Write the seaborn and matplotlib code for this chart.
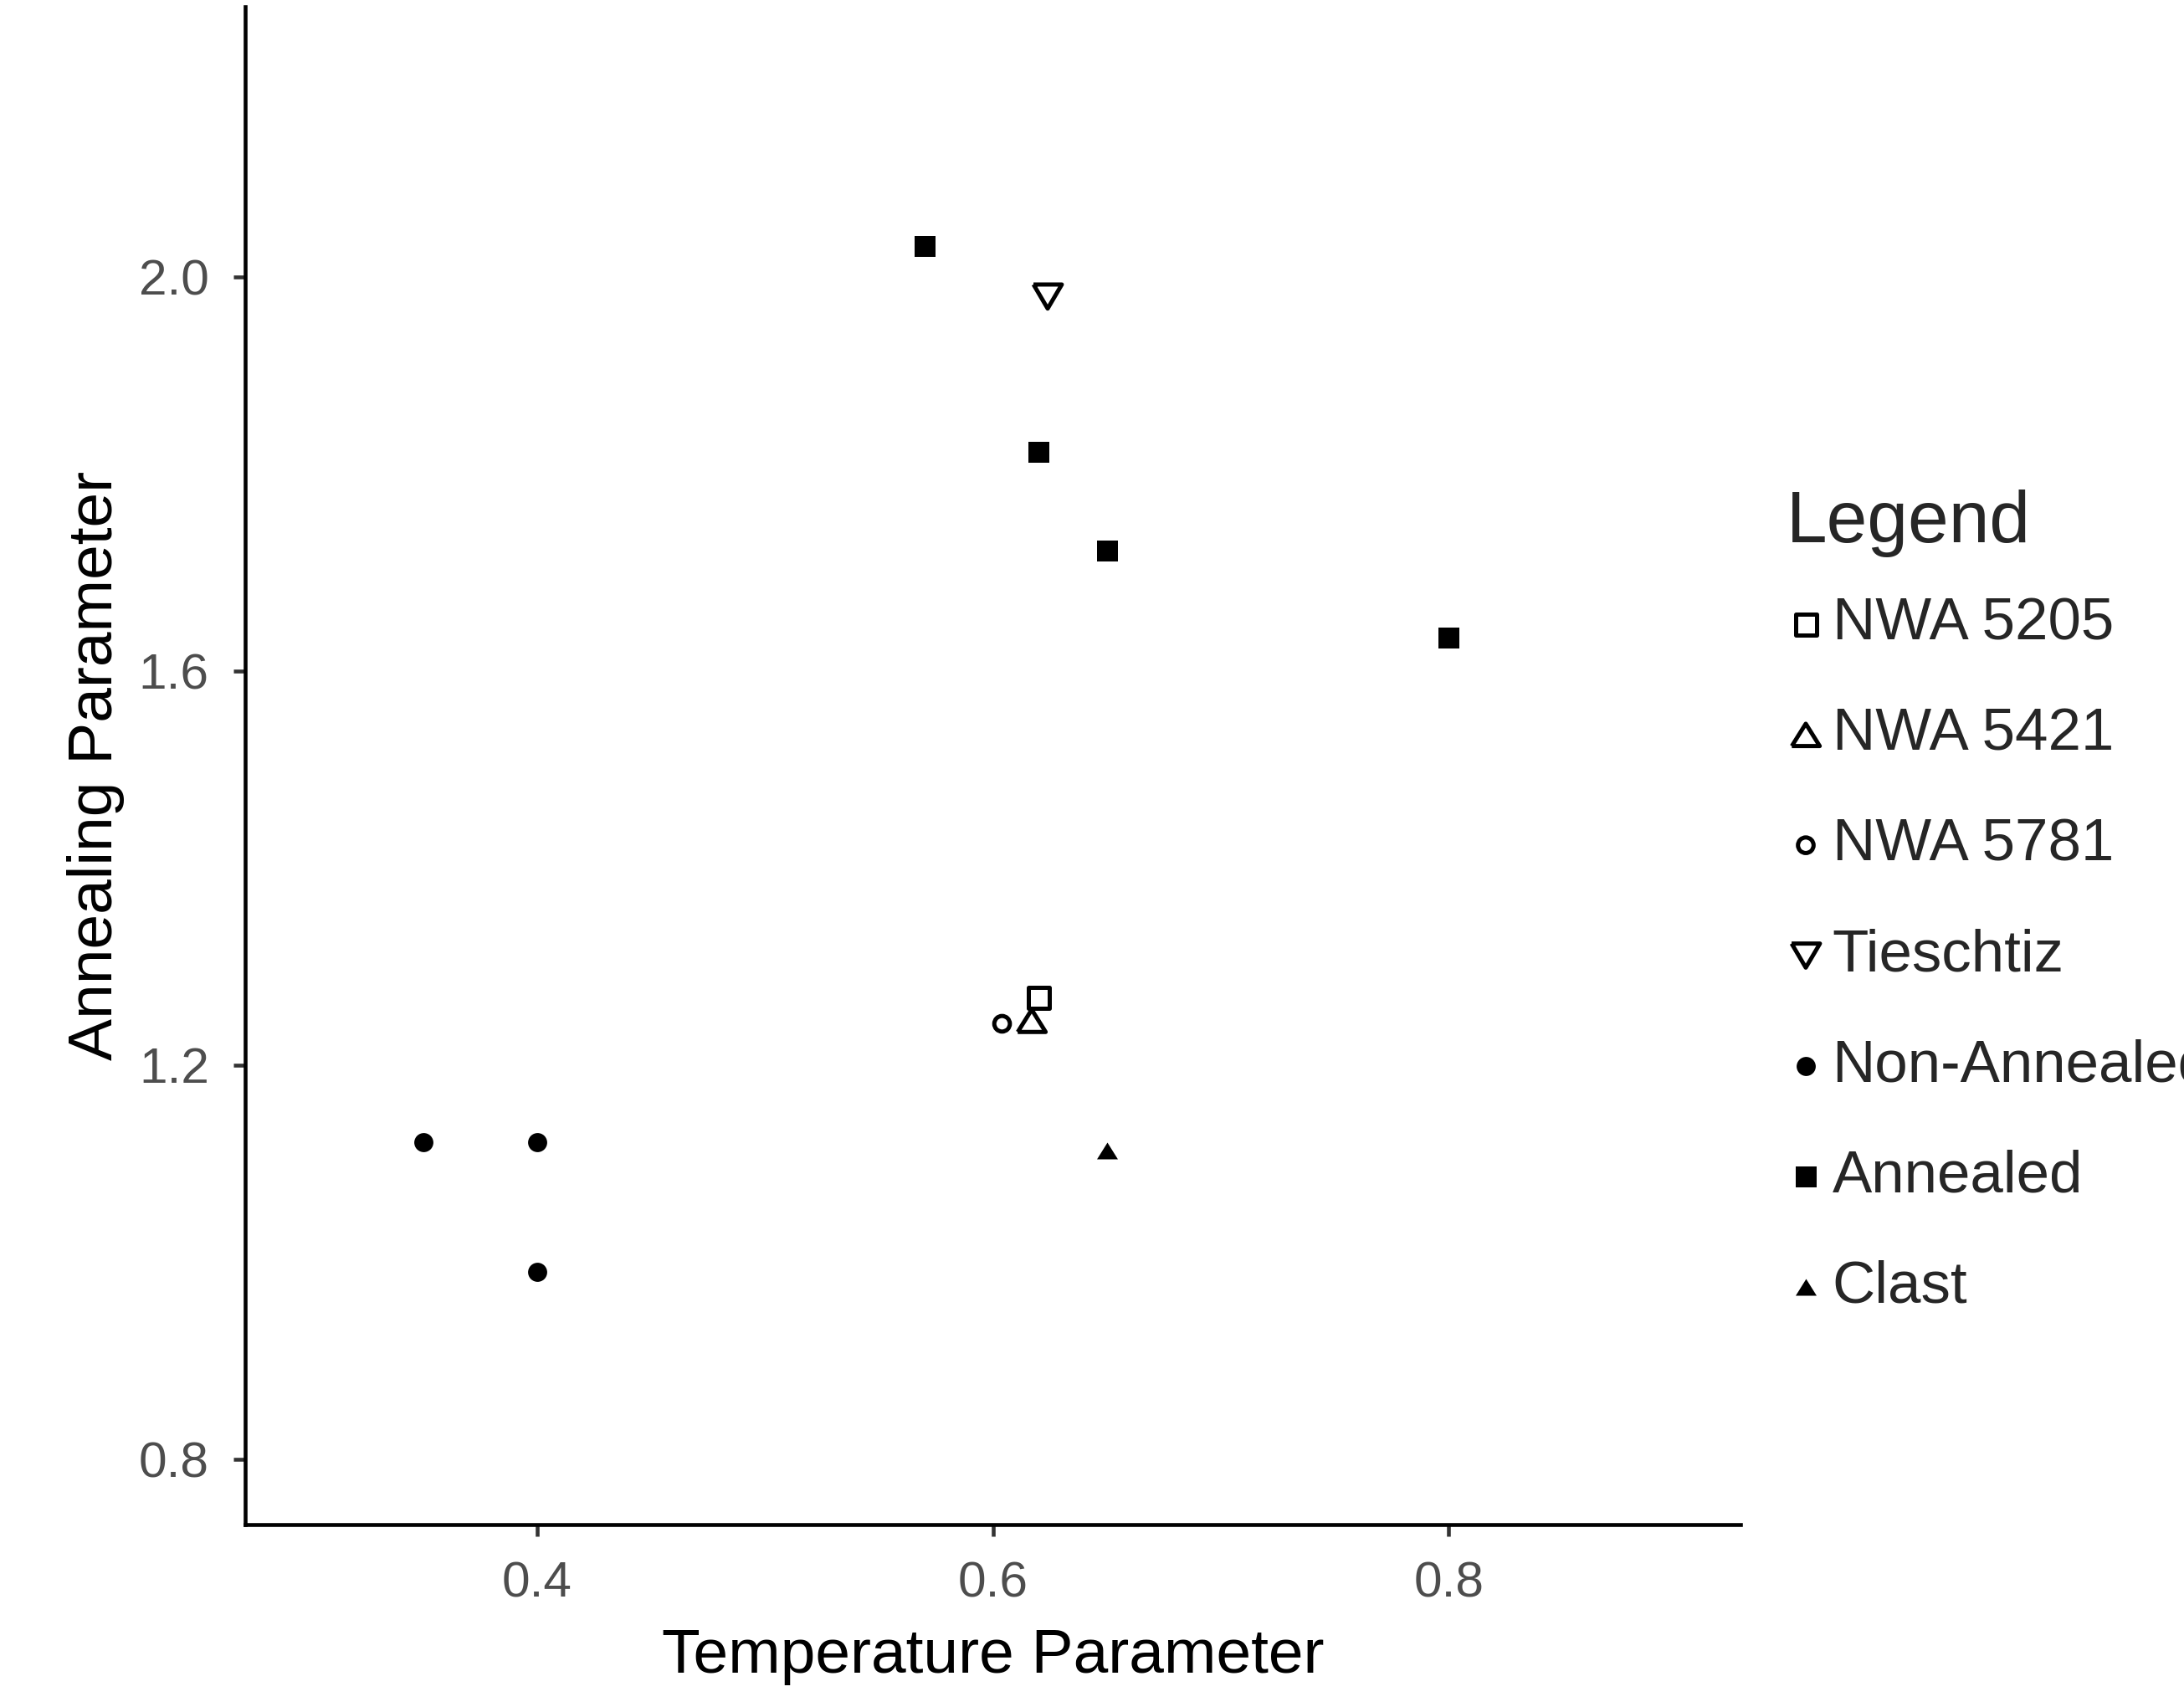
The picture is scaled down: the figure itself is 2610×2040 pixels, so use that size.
import numpy as np
import pandas as pd
import matplotlib
matplotlib.use("Agg")
import matplotlib.pyplot as plt
import seaborn as sns

# Sample groups, in legend order
groups = ["NWA 5205", "NWA 5421", "NWA 5781", "Tieschtiz", "Non-Annealed", "Annealed", "Clast"]

# Temperature / annealing parameters per group
nwa5205_temp = [0.620]
nwa5205_anneal = [1.268]
nwa5421_temp = [0.617]
nwa5421_anneal = [1.245]
nwa5781_temp = [0.604]
nwa5781_anneal = [1.242]
tieschtiz_temp = [0.624]
tieschtiz_anneal = [1.980]
nonannealed_temp = [0.35, 0.40, 0.40]
nonannealed_anneal = [1.122, 1.122, 0.990]
annealed_temp = [0.57, 0.62, 0.65, 0.80]
annealed_anneal = [2.031, 1.822, 1.722, 1.634]
clast_temp = [0.65]
clast_anneal = [1.113]

x_ticks = [0.4, 0.6, 0.8]
y_ticks = [0.8, 1.2, 1.6, 2.0]

temps = [nwa5205_temp, nwa5421_temp, nwa5781_temp, tieschtiz_temp,
         nonannealed_temp, annealed_temp, clast_temp]
anneals = [nwa5205_anneal, nwa5421_anneal, nwa5781_anneal, tieschtiz_anneal,
           nonannealed_anneal, annealed_anneal, clast_anneal]

df = pd.DataFrame({
    "Temperature Parameter": np.concatenate(temps),
    "Annealing Parameter": np.concatenate(anneals),
    "Group": np.repeat(groups, [len(t) for t in temps]),
})

sns.set_theme(style="ticks")
plt.rcParams["font.family"] = ["Liberation Sans", "DejaVu Sans"]

# triangle shapes a little wider than tall
tri_up = [(-1, -0.8), (1, -0.8), (0, 0.8), (-1, -0.8)]
tri_down = [(-1, 0.85), (1, 0.85), (0, -0.85), (-1, 0.85)]

styles = {
    "NWA 5205":     dict(marker="s", s=36, facecolor="none", edgecolor="black", linewidth=1.2),
    "NWA 5421":     dict(marker=tri_up, s=64, facecolor="none", edgecolor="black", linewidth=1.2),
    "NWA 5781":     dict(marker="o", s=20, facecolor="none", edgecolor="black", linewidth=1.2),
    "Tieschtiz":    dict(marker=tri_down, s=66, facecolor="none", edgecolor="black", linewidth=1.2),
    "Non-Annealed": dict(marker="o", s=30, facecolor="black", edgecolor="black", linewidth=0),
    "Annealed":     dict(marker="s", s=36, facecolor="black", edgecolor="black", linewidth=0),
    "Clast":        dict(marker=tri_up, s=36, facecolor="black", edgecolor="black", linewidth=0),
}

fig = plt.figure(figsize=(8.7, 6.8), dpi=300)
ax = fig.add_axes([0.1123, 0.107, 0.797 - 0.1123, 0.996 - 0.107])

for g in groups:
    sub = df[df["Group"] == g]
    sns.scatterplot(data=sub, x="Temperature Parameter", y="Annealing Parameter",
                    ax=ax, legend=False, label=g, **styles[g])

ax.set_xlim(0.272, 0.928)
ax.set_ylim(0.734, 2.274)
ax.set_xticks(x_ticks)
ax.set_yticks(y_ticks)
ax.set_xticklabels([f"{v:.1f}" for v in x_ticks])
ax.set_yticklabels([f"{v:.1f}" for v in y_ticks])

for side in ["top", "right"]:
    ax.spines[side].set_visible(False)
for side in ["left", "bottom"]:
    ax.spines[side].set_color("black")
    ax.spines[side].set_linewidth(1.1)

ax.tick_params(axis="both", direction="out", length=3.4, width=1.1,
               color="#333333", labelcolor="#4D4D4D", labelsize=14.5, pad=7)
ax.set_xlabel("Temperature Parameter", fontsize=18, color="black", labelpad=6)
ax.set_ylabel("Annealing Parameter", fontsize=18, color="black", labelpad=4)

leg = ax.legend(title="Legend", loc="upper left", bbox_to_anchor=(0.818, 0.713),
                bbox_transform=fig.transFigure, frameon=False, fontsize=17,
                title_fontsize=21, alignment="left", borderpad=0, borderaxespad=0,
                handlelength=0.65, handletextpad=0.12, labelspacing=0.93)
# tighter gap between the legend title and its first entry
leg._legend_box.sep = 11.4

fig.savefig("out.png", dpi=300)
